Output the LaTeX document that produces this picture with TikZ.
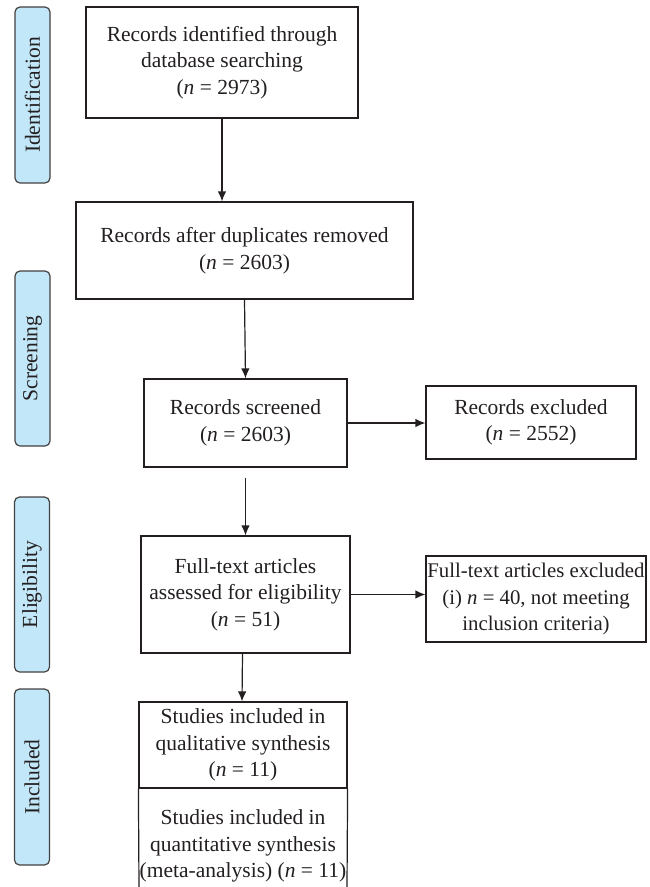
\documentclass[tikz,border=0pt]{standalone}
\usepackage{fontspec}
\setmainfont{Liberation Serif}
\usetikzlibrary{arrows.meta}
\definecolor{lblue}{HTML}{C2E7F8}
\definecolor{ink}{HTML}{231F20}
\begin{document}
\begin{tikzpicture}[x=1pt,y=-1pt,
  every node/.style={font=\fontsize{21.5}{26.5}\selectfont, text=ink, align=center},
  box/.style={draw=ink, line width=1.2pt, inner sep=0.5pt},
  phase/.style={draw=ink!85, line width=1.2pt, fill=lblue, rounded corners=5pt, rotate=90, minimum height=35, inner sep=0pt},
  arr/.style={draw=ink, line width=1.2pt, -{Latex[length=10pt,width=8.5pt]}}]
\useasboundingbox (0,0) rectangle (650,887);
% phase labels
\node[phase, minimum width=176] (L1) at (32.5,95) {Identification};
\node[phase, minimum width=175] (L2) at (32.5,358.5) {Screening};
\node[phase, minimum width=175] (L3) at (32,584.5) {Eligibility};
\node[phase, minimum width=176] (L4) at (32,777) {Included};
% boxes
\node[box, minimum width=272, minimum height=111] (b1) at (222,62.5) {Records identified through\\database searching\\(\textit{n} = 2973)};
\node[box, minimum width=337, minimum height=97] (b2) at (244.5,250.5) {Records after duplicates removed\\(\textit{n} = 2603)};
\node[box, minimum width=203, minimum height=88] (b3) at (245.5,423) {Records screened\\(\textit{n} = 2603)};
\node[box, minimum width=210, minimum height=73] (r1) at (531,422.5) {Records excluded\\(\textit{n} = 2552)};
\node[box, minimum width=209, minimum height=117] (b4) at (245.5,594.5) {Full-text articles\\assessed for eligibility\\(\textit{n} = 51)};
\node[box, minimum width=220, minimum height=86, inner sep=0pt, font=\fontsize{20.8}{26.5}\selectfont] (r2) at (536,599) {Full-text articles excluded\\(i) \textit{n} = 40, not meeting\\inclusion criteria)};
\node[box, minimum width=208, minimum height=86] (b5a) at (243,745) {Studies included in\\qualitative synthesis\\(\textit{n} = 11)};
\node[minimum width=208, inner sep=0.5pt] (b5b) at (243,846) {Studies included in\\quantitative synthesis\\(meta-analysis) (\textit{n} = 11)};
\coordinate (b5bl) at (139,887);
\coordinate (b5br) at (347,887);
\draw[draw=ink, line width=1.2pt] (b5a.south west) -- (b5bl);
\draw[draw=ink, line width=1.2pt] (b5a.south east) -- (b5br);
% connectors
\draw[arr] (b1.south) -- (b1.south |- b2.north);
\draw[arr] (b2.south) -- (b3.north);
\draw[arr] (b3.east) -- (b3.east -| r1.west);
\draw[arr, shorten <=10pt] (b3.south) -- (b4.north);
\draw[arr] (b4.east) -- (b4.east -| r2.west);
\draw[arr] ([xshift=-3pt]b4.south) -- ([xshift=-1pt]b5a.north);
\end{tikzpicture}
\end{document}
